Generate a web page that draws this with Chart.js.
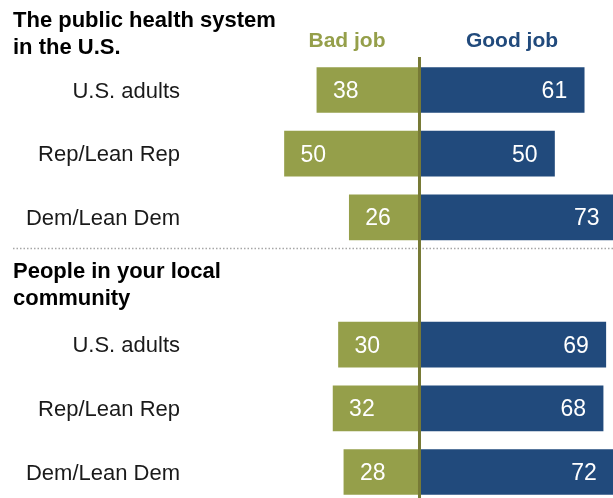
<!DOCTYPE html>
<html lang="en">
<head>
  <meta charset="UTF-8">
  <title>Public health job ratings</title>
  <style>
    html, body {
      margin: 0;
      padding: 0;
      background: #ffffff;
    }
    #wrap {
      position: relative;
      width: 613px;
      height: 498px;
    }
  </style>
</head>
<body>
  <div id="wrap">
    <canvas id="chart" width="613" height="498"></canvas>
  </div>

  <script src="https://cdn.jsdelivr.net/npm/chart.js"></script>
  <script>
    // Survey groups, each with the same three respondent rows
    const groupTitles = [
      ['The public health system', 'in the U.S.'],
      ['People in your local', 'community']
    ];
    const rowLabels = ['U.S. adults', 'Rep/Lean Rep', 'Dem/Lean Dem'];
    const seriesNames = ['Bad job', 'Good job'];
    const badJob = [[38, 50, 26], [30, 32, 28]];
    const goodJob = [[61, 50, 73], [69, 68, 72]];

    const OLIVE = '#959f4a';
    const NAVY = '#214a7c';
    const FONT = '"Liberation Sans", Arial, sans-serif';

    // each group takes its rows plus one spacer slot for the next title
    const slotsPerGroup = rowLabels.length + 1;

    const badPoints = [];
    const goodPoints = [];
    groupTitles.forEach((_, g) => {
      rowLabels.forEach((_, r) => {
        const y = g * slotsPerGroup + r;
        badPoints.push({ x: -badJob[g][r], y: y, v: badJob[g][r] });
        goodPoints.push({ x: goodJob[g][r], y: y, v: goodJob[g][r] });
      });
    });

    const labelsPlugin = {
      id: 'labels',
      beforeDatasetsDraw(chart) {
        const ctx = chart.ctx;
        const yScale = chart.scales.y;
        ctx.save();

        // group titles
        ctx.fillStyle = '#000000';
        ctx.font = 'bold 22px ' + FONT;
        ctx.textAlign = 'left';
        ctx.textBaseline = 'alphabetic';
        ctx.fillText(groupTitles[0][0], 13, 27);
        ctx.fillText(groupTitles[0][1], 13, 54);
        ctx.fillText(groupTitles[1][0], 13, 278);
        ctx.fillText(groupTitles[1][1], 13, 305);

        // series headers
        ctx.font = 'bold 21px ' + FONT;
        ctx.textAlign = 'center';
        ctx.fillStyle = OLIVE;
        ctx.fillText(seriesNames[0], 347, 47);
        ctx.fillStyle = NAVY;
        ctx.fillText(seriesNames[1], 512, 47);

        // row labels
        ctx.font = '22px ' + FONT;
        ctx.fillStyle = '#1a1a1a';
        ctx.textAlign = 'right';
        groupTitles.forEach((_, g) => {
          rowLabels.forEach((label, r) => {
            const py = yScale.getPixelForValue(g * slotsPerGroup + r);
            ctx.fillText(label, 180, py + 7.5);
          });
        });

        // dotted separator between the groups
        const sepY = Math.round(yScale.getPixelForValue(slotsPerGroup - 1.5)) - 0.5;
        ctx.strokeStyle = '#a6a6a6';
        ctx.lineWidth = 1.5;
        ctx.setLineDash([1.5, 2]);
        ctx.beginPath();
        ctx.moveTo(13, sepY);
        ctx.lineTo(chart.width, sepY);
        ctx.stroke();
        ctx.restore();
      },
      afterDatasetsDraw(chart) {
        const ctx = chart.ctx;
        const xScale = chart.scales.x;
        ctx.save();

        // value labels inside the bar ends
        ctx.font = '23px ' + FONT;
        ctx.fillStyle = '#ffffff';
        ctx.textBaseline = 'alphabetic';
        chart.data.datasets.forEach((ds, i) => {
          chart.getDatasetMeta(i).data.forEach((bar, j) => {
            const val = ds.data[j].v;
            if (i === 0) {
              ctx.textAlign = 'left';
              ctx.fillText(val, bar.x + 16, bar.y + 8);
            } else {
              ctx.textAlign = 'right';
              ctx.fillText(val, bar.x - 17, bar.y + 8);
            }
          });
        });

        // zero line
        const x0 = xScale.getPixelForValue(0);
        ctx.strokeStyle = '#777a36';
        ctx.lineWidth = 3;
        ctx.beginPath();
        ctx.moveTo(x0, 57);
        ctx.lineTo(x0, chart.height);
        ctx.stroke();
        ctx.restore();
      }
    };

    new Chart(document.getElementById('chart'), {
      type: 'bar',
      data: {
        datasets: [
          {
            label: seriesNames[0],
            data: badPoints,
            backgroundColor: OLIVE,
            stack: 'all'
          },
          {
            label: seriesNames[1],
            data: goodPoints,
            backgroundColor: NAVY,
            stack: 'all'
          }
        ]
      },
      options: {
        indexAxis: 'y',
        responsive: false,
        animation: false,
        barThickness: 45,
        layout: { padding: 0 },
        plugins: {
          legend: { display: false },
          tooltip: { enabled: false }
        },
        scales: {
          x: {
            type: 'linear',
            stacked: true,
            min: -155.37,
            max: 71.67,
            display: false
          },
          y: {
            type: 'linear',
            stacked: true,
            reverse: true,
            offset: false,
            min: -1.4136,
            max: 6.408,
            display: false
          }
        }
      },
      plugins: [labelsPlugin]
    });
  </script>
</body>
</html>
